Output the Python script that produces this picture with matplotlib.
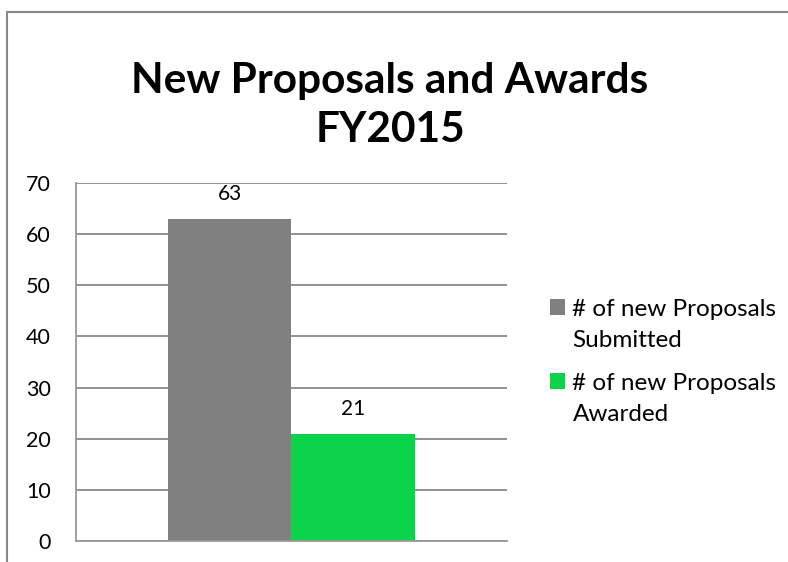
import matplotlib.pyplot as plt
from matplotlib.patches import Rectangle
from matplotlib.legend_handler import HandlerPatch
from matplotlib.container import BarContainer

series = ["# of new Proposals\nSubmitted", "# of new Proposals\nAwarded"]
valores = [63, 21]
cores = ["#808080", "#0BD44B"]
yticks = [0, 10, 20, 30, 40, 50, 60, 70]

plt.rcParams['font.family'] = ['Lato', 'DejaVu Sans']

fig = plt.figure(figsize=(7.88, 5.62), dpi=100)
ax = fig.add_axes([0.0964, 0.0374, 0.547, 0.637])

largura = 0.287
posicoes = [-largura / 2, largura / 2]
for pos, v, c, nome in zip(posicoes, valores, cores, series):
    ax.bar(pos, v, width=largura, color=c, label=nome, zorder=2)
    ax.text(pos, v + 2.8, str(v), ha='center', va='bottom', fontsize=15)

ax.set_xlim(-0.5, 0.5)
ax.set_ylim(0, 70)
ax.set_yticks(yticks)
ax.set_xticks([])
ax.tick_params(axis='y', length=0, labelsize=15.5, pad=18)
ax.grid(axis='y', color='#888888', linewidth=1.3, zorder=0)
for s in ['top', 'right']:
    ax.spines[s].set_visible(False)
for s in ['left', 'bottom']:
    ax.spines[s].set_color('#999999')
    ax.spines[s].set_linewidth(1.3)

fig.text(0.495, 0.812, 'New Proposals and Awards\nFY2015', ha='center', va='center',
         fontsize=30.5, fontweight='bold', linespacing=1.35)


# quadradinho alinhado com a primeira linha do texto
def quadrado(legend, orig_handle, xdescent, ydescent, width, height, fontsize):
    return Rectangle((-xdescent, -ydescent + 13), width, height)


def cor_da_barra(legend_handle, orig_handle):
    legend_handle.update_from(orig_handle.patches[0])


leg = ax.legend(loc='center left', bbox_to_anchor=(1.10, 0.5), frameon=False, fontsize=17.5,
                handlelength=0.62, handleheight=0.62, handletextpad=0.3, labelspacing=0.9,
                borderaxespad=0, borderpad=0,
                handler_map={BarContainer: HandlerPatch(patch_func=quadrado,
                                                        update_func=cor_da_barra)})
for t in leg.get_texts():
    t.set_linespacing(1.6)

# moldura do gráfico
fig.patches.append(Rectangle((7 / 788, -0.1), 1.2, 1.1 - 12 / 562, transform=fig.transFigure,
                             fill=False, edgecolor='#888888', linewidth=1.5, clip_on=False))

fig.savefig('out.png', dpi=100)
